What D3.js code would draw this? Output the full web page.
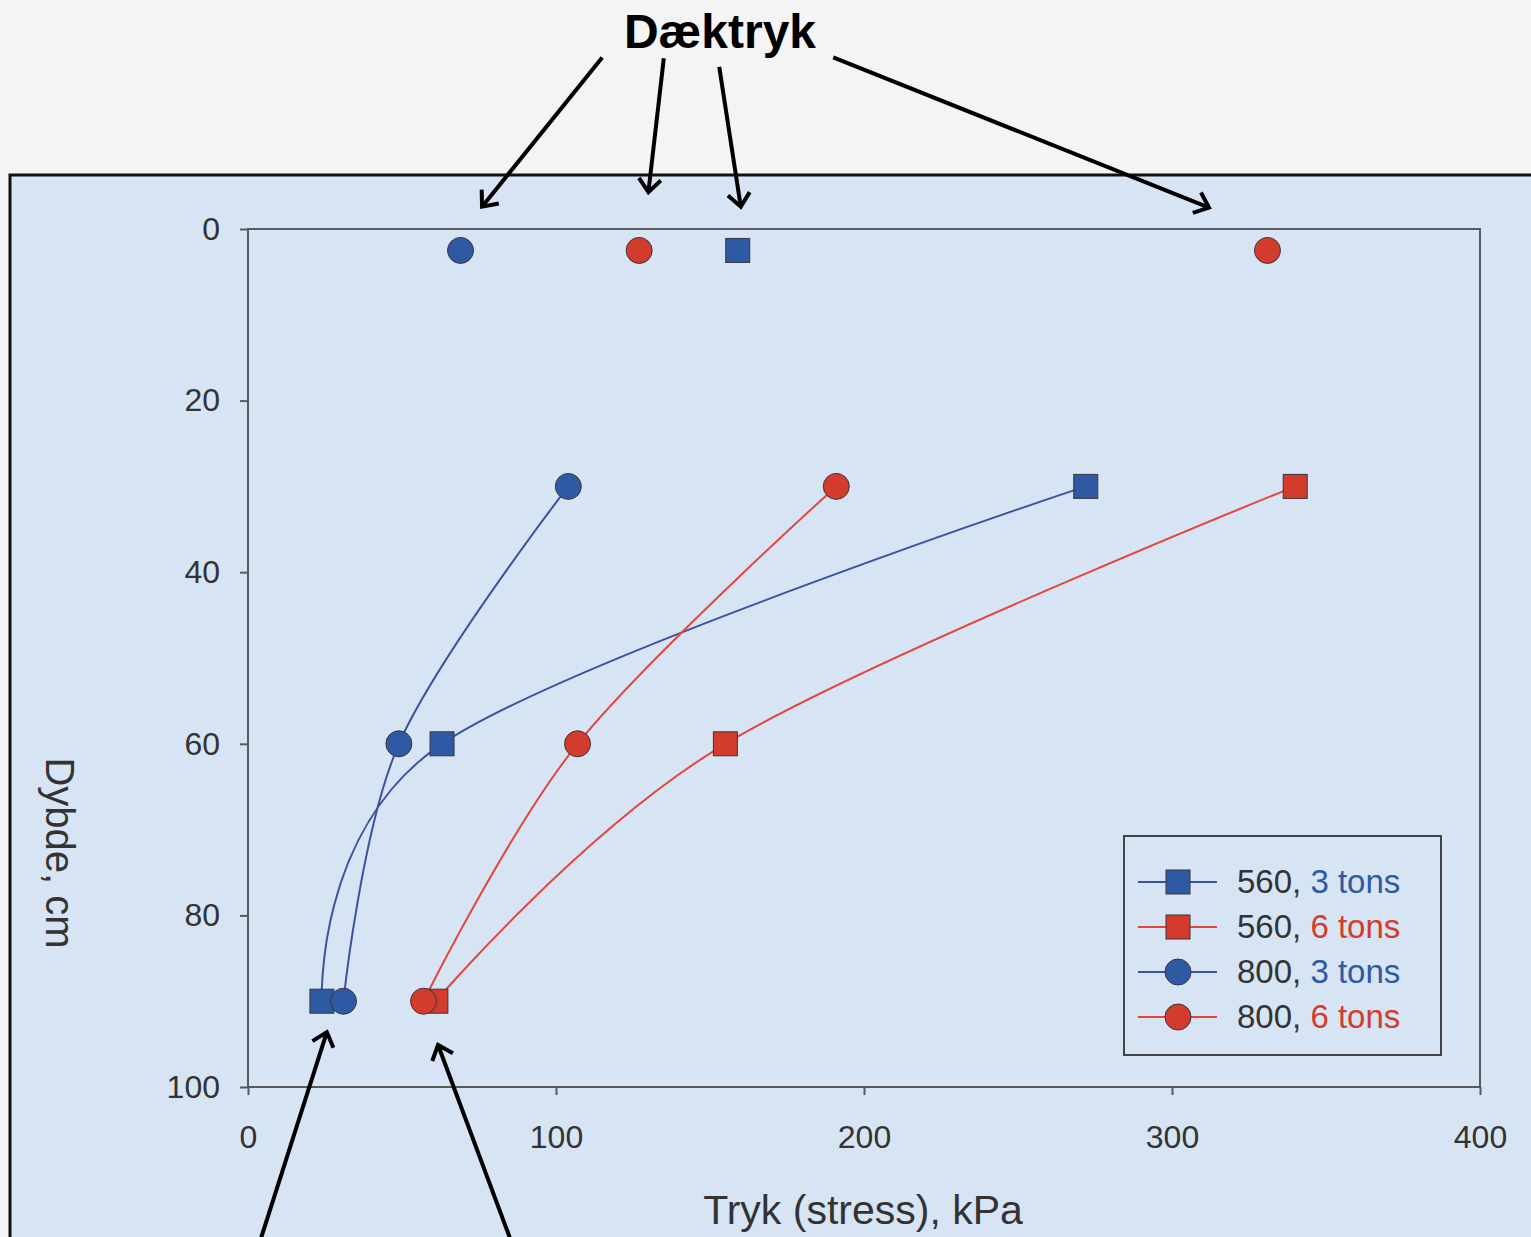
<!DOCTYPE html>
<html>
<head>
<meta charset="utf-8">
<script src="https://cdn.jsdelivr.net/npm/d3@7"></script>
<style>
  body { margin: 0; background: #f4f4f4; }
  svg { display: block; }
  text { font-family: "Liberation Sans", Arial, Helvetica, sans-serif; }
</style>
</head>
<body>
<svg id="chart"></svg>
<script>
// depths (cm) where stress was measured
const depths = [30, 60, 90];

// stress (kPa) per series at those depths
const s560_3t = [272, 63, 24];
const s560_6t = [340, 155, 61];
const s800_3t = [104, 49, 31];
const s800_6t = [191, 107, 57];

// tyre pressure points drawn at the surface
const surfaceDepth = 2.5;
const surfaceStress = [69, 127, 159, 331];
const surfaceSeries = ["800, 3 tons", "800, 6 tons", "560, 3 tons", "800, 6 tons"];

const seriesNames = ["560, 3 tons", "560, 6 tons", "800, 3 tons", "800, 6 tons"];
const seriesValues = [s560_3t, s560_6t, s800_3t, s800_6t];

const xTicks = [0, 100, 200, 300, 400];
const yTicks = [0, 20, 40, 60, 80, 100];

// arrows from the "Dæktryk" note and from below, in data units [x0, y0, x1, y1]
const arrowsTop = [[115, -20, 76, -2.6], [135, -19.9, 130, -4.3], [153, -18.9, 160, -2.6], [190, -20, 312, -2.5]];
const arrowsBottom = [[3, 119, 25.6, 93.6], [86.5, 119, 61.7, 95.1]];

const BLUE = "#2d5aa2", RED = "#d33b2d";
const BLUE_LINE = "#3c52a0", RED_LINE = "#e2463d";

var svg = d3.select("#chart").attr("width", 1531).attr("height", 1237);

// scanned figure panel
svg.append("rect")
  .attr("x", 10).attr("y", 175).attr("width", 1560).attr("height", 1100)
  .attr("fill", "#d7e4f3").attr("stroke", "#111").attr("stroke-width", 3);

var x = d3.scaleLinear().domain([0, 400]).range([248, 1480]);
var y = d3.scaleLinear().domain([0, 100]).range([229, 1087]);

// plot frame
svg.append("rect")
  .attr("x", x(0)).attr("y", y(0))
  .attr("width", x(400) - x(0)).attr("height", y(100) - y(0))
  .attr("fill", "none").attr("stroke", "#5a5a5a").attr("stroke-width", 2);

var yAxis = svg.append("g")
  .attr("transform", "translate(" + x(0) + ",0)")
  .call(d3.axisLeft(y).tickValues(yTicks).tickSize(8).tickPadding(20));
var xAxis = svg.append("g")
  .attr("transform", "translate(0," + y(100) + ")")
  .call(d3.axisBottom(x).tickValues(xTicks).tickSize(8).tickPadding(30));

[yAxis, xAxis].forEach(function(a) {
  a.select(".domain").remove();
  a.selectAll(".tick line").attr("stroke", "#5a5a5a").attr("stroke-width", 2);
  a.selectAll(".tick text").attr("fill", "#333").style("font-size", "32px")
    .style("font-family", "'Liberation Sans', Arial, sans-serif");
});

svg.append("text")
  .attr("transform", "translate(" + 46 + "," + 853 + ") rotate(90)")
  .attr("text-anchor", "middle")
  .attr("fill", "#333").style("font-size", "40px")
  .text("Dybde, cm");

svg.append("text")
  .attr("x", 863).attr("y", 1224)
  .attr("text-anchor", "middle")
  .attr("fill", "#333").style("font-size", "41px")
  .text("Tryk (stress), kPa");

// series lines, smoothed like the spreadsheet original
var line = d3.line()
  .x(function(d) { return x(d[0]); })
  .y(function(d) { return y(d[1]); })
  .curve(d3.curveCardinal.tension(0));

function colorOf(name) { return name.indexOf("3 tons") >= 0 ? BLUE : RED; }
function lineColorOf(name) { return name.indexOf("3 tons") >= 0 ? BLUE_LINE : RED_LINE; }
function isSquare(name) { return name.indexOf("560") === 0; }

function drawMarker(g, cx, cy, name) {
  if (isSquare(name)) {
    g.append("rect")
      .attr("x", cx - 12).attr("y", cy - 12).attr("width", 24).attr("height", 24)
      .attr("fill", colorOf(name)).attr("stroke", "#3b3440").attr("stroke-width", 1);
  } else {
    g.append("circle")
      .attr("cx", cx).attr("cy", cy).attr("r", 13)
      .attr("fill", colorOf(name)).attr("stroke", "#3b3440").attr("stroke-width", 1);
  }
}

var lines = svg.append("g");
seriesNames.forEach(function(name, i) {
  var pts = depths.map(function(d, j) { return [seriesValues[i][j], d]; });
  lines.append("path")
    .datum(pts)
    .attr("fill", "none")
    .attr("stroke", lineColorOf(name))
    .attr("stroke-width", 2)
    .attr("d", line);
});

var marks = svg.append("g");
seriesNames.forEach(function(name, i) {
  depths.forEach(function(d, j) {
    drawMarker(marks, x(seriesValues[i][j]), y(d), name);
  });
});
surfaceStress.forEach(function(v, i) {
  drawMarker(marks, x(v), y(surfaceDepth), surfaceSeries[i]);
});

// legend
var lg = svg.append("g");
lg.append("rect")
  .attr("x", 1124).attr("y", 836).attr("width", 317).attr("height", 219)
  .attr("fill", "none").attr("stroke", "#444").attr("stroke-width", 2);
seriesNames.forEach(function(name, i) {
  var ry = 882 + i * 45;
  lg.append("line")
    .attr("x1", 1138).attr("x2", 1217).attr("y1", ry).attr("y2", ry)
    .attr("stroke", lineColorOf(name)).attr("stroke-width", 2);
  drawMarker(lg, 1178, ry, name);
  var parts = name.split(", ");
  var t = lg.append("text")
    .attr("x", 1237).attr("y", ry + 11)
    .style("font-size", "33px");
  t.append("tspan").attr("fill", "#333").text(parts[0] + ", ");
  t.append("tspan").attr("fill", colorOf(name)).text(parts[1]);
});

// note and arrows
svg.append("text")
  .attr("x", 720).attr("y", 48)
  .attr("text-anchor", "middle")
  .attr("fill", "#000")
  .style("font-size", "48px").style("font-weight", "bold")
  .text("Dæktryk");

var defs = svg.append("defs");
defs.append("marker")
  .attr("id", "head")
  .attr("viewBox", "-16 -14 20 28")
  .attr("refX", 0).attr("refY", 0)
  .attr("markerWidth", 20).attr("markerHeight", 28)
  .attr("markerUnits", "userSpaceOnUse")
  .attr("orient", "auto")
  .append("path")
  .attr("d", "M-13,-11 L0,0 L-13,11")
  .attr("fill", "none").attr("stroke", "#000").attr("stroke-width", 4);

arrowsTop.concat(arrowsBottom).forEach(function(a) {
  svg.append("line")
    .attr("x1", x(a[0])).attr("y1", y(a[1]))
    .attr("x2", x(a[2])).attr("y2", y(a[3]))
    .attr("stroke", "#000").attr("stroke-width", 4)
    .attr("marker-end", "url(#head)");
});
</script>
</body>
</html>
